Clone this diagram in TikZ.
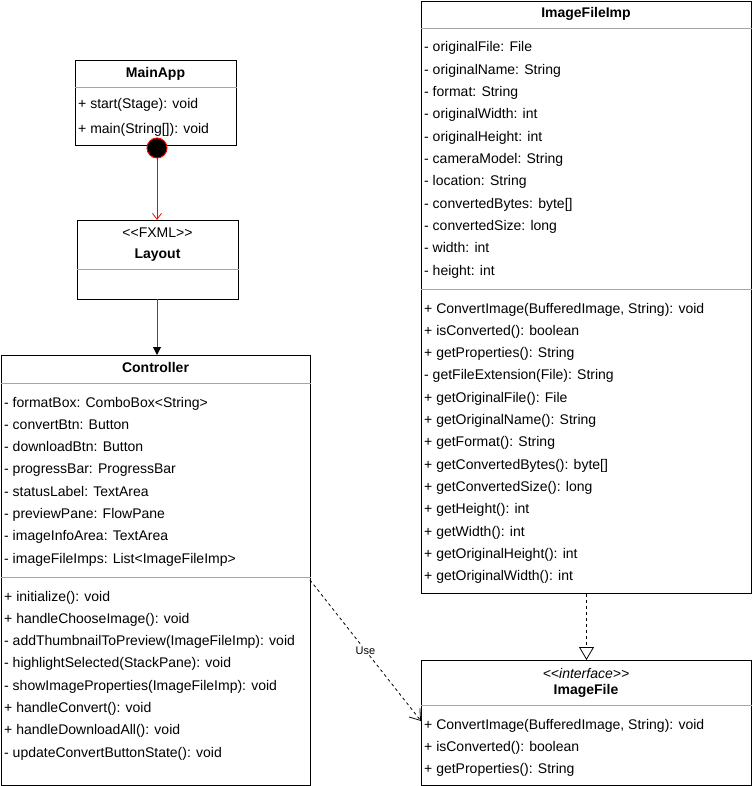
\documentclass[tikz,border=0pt]{standalone}
\usepackage{fontspec}
\setmainfont{Liberation Sans}
\usetikzlibrary{arrows.meta}
% guillemet-free angle brackets: a kern keeps << and >> from merging
\newcommand{\lsq}{<\kern0pt<}
\newcommand{\rsq}{>\kern0pt>}
\begin{document}
\begin{tikzpicture}[x=1pt,y=-1pt,
  classbox/.style={draw=black, line width=1pt, fill=white, anchor=north west, inner sep=0pt},
  sepline/.style={draw=black!35, line width=1pt},
  row/.style={anchor=base west, inner sep=0pt, font=\fontsize{14}{16}\selectfont},
  ctitle/.style={anchor=base, inner sep=0pt, font=\fontsize{14}{16}\selectfont\bfseries},
  stereo/.style={anchor=base, inner sep=0pt, font=\fontsize{14}{16}\selectfont},
  dashline/.style={line width=0.8pt, dash pattern=on 3pt off 3pt},
  dot/.style={circle, draw=red, fill=black, line width=1pt, minimum size=20pt, inner sep=0pt}]
\useasboundingbox (0,0) rectangle (752,786);

% ---------- MainApp ----------
\node[classbox, minimum width=161pt, minimum height=85pt] (mainapp) at (75,60) {};
\node[ctitle] (mainappT) at (155.5,77.5) {MainApp};
\draw[sepline] (mainapp.west |- 0,88) -- (mainapp.east |- 0,88);
\node[row] (mA1) at (78,109) {+ start(Stage): void};
\node[row] (mA2) at (78,134) {+ main(String[]): void};

% ---------- Layout ----------
\node[classbox, minimum width=161pt, minimum height=79pt] (layout) at (77,220) {};
\node[stereo] (layoutS) at (157.5,237) {\lsq FXML\rsq};
\node[ctitle] (layoutT) at (157.5,258) {Layout};
\draw[sepline] (layout.west |- 0,269) -- (layout.east |- 0,269);

% ---------- Controller ----------
\node[classbox, minimum width=309pt, minimum height=430pt] (ctrl) at (1,355) {};
\node[ctitle] (ctrlT) at (155.5,372.5) {Controller};
\draw[sepline] (ctrl.west |- 0,383) -- (ctrl.east |- 0,383);
\foreach \t [count=\i from 0] in {
  {- formatBox: ComboBox<String>},
  {- convertBtn: Button},
  {- downloadBtn: Button},
  {- progressBar: ProgressBar},
  {- statusLabel: TextArea},
  {- previewPane: FlowPane},
  {- imageInfoArea: TextArea},
  {- imageFileImps: List<ImageFileImp>}}
  \node[row] at (4,407+22.3*\i) {\t};
\draw[sepline] (ctrl.west |- 0,577) -- (ctrl.east |- 0,577);
\foreach \t [count=\i from 0] in {
  {+ initialize(): void},
  {+ handleChooseImage(): void},
  {- addThumbnailToPreview(ImageFileImp): void},
  {- highlightSelected(StackPane): void},
  {- showImageProperties(ImageFileImp): void},
  {+ handleConvert(): void},
  {+ handleDownloadAll(): void},
  {- updateConvertButtonState(): void}}
  \node[row] at (4,601+22.3*\i) {\t};

% ---------- ImageFileImp ----------
\node[classbox, minimum width=330pt, minimum height=592pt] (imp) at (421,1) {};
\node[ctitle] (impT) at (586,18) {ImageFileImp};
\draw[sepline] (imp.west |- 0,29) -- (imp.east |- 0,29);
\foreach \t [count=\i from 0] in {
  {- originalFile: File},
  {- originalName: String},
  {- format: String},
  {- originalWidth: int},
  {- originalHeight: int},
  {- cameraModel: String},
  {- location: String},
  {- convertedBytes: byte[]},
  {- convertedSize: long},
  {- width: int},
  {- height: int}}
  \node[row] at (424,52+22.3*\i) {\t};
\draw[sepline] (imp.west |- 0,289) -- (imp.east |- 0,289);
\foreach \t [count=\i from 0] in {
  {+ ConvertImage(BufferedImage, String): void},
  {+ isConverted(): boolean},
  {+ getProperties(): String},
  {- getFileExtension(File): String},
  {+ getOriginalFile(): File},
  {+ getOriginalName(): String},
  {+ getFormat(): String},
  {+ getConvertedBytes(): byte[]},
  {+ getConvertedSize(): long},
  {+ getHeight(): int},
  {+ getWidth(): int},
  {+ getOriginalHeight(): int},
  {+ getOriginalWidth(): int}}
  \node[row] at (424,313+22.33*\i) {\t};

% ---------- ImageFile (interface) ----------
\node[classbox, minimum width=330pt, minimum height=125pt] (ifile) at (421,660) {};
\node[stereo, font=\fontsize{14}{16}\selectfont\itshape] (ifileS) at (586,678) {\lsq interface\rsq};
\node[ctitle] (ifileT) at (586,694) {ImageFile};
\draw[sepline] (ifile.west |- 0,705) -- (ifile.east |- 0,705);
\foreach \t [count=\i from 0] in {
  {+ ConvertImage(BufferedImage, String): void},
  {+ isConverted(): boolean},
  {+ getProperties(): String}}
  \node[row] at (424,729+22.3*\i) {\t};

% ---------- Connectors ----------
\node[dot] (start) at (157,148) {};
\draw[red, line width=0.8pt, -{Straight Barb[length=6pt,width=9pt]}]
  (start.south) -- (start.south |- layout.north);

\coordinate (layoutOut) at (157,299);
\draw[black!70, line width=1pt, -{Triangle[length=8pt,width=8pt,color=black]}]
  (layoutOut) -- (layoutOut |- ctrl.north);

\draw[dashline, -{Triangle[open, length=13pt, width=15pt, line width=0.8pt]}]
  (imp.south) -- (ifile.north);

\coordinate (useA) at (310,580);
\coordinate (useB) at (421,721);
\draw[dashline, -{Straight Barb[length=10pt,width=14pt, line width=0.8pt]}]
  (useA) -- (useB)
  node[midway, fill=white, inner sep=1pt, font=\fontsize{11}{13}\selectfont] (uselbl) {Use};
\end{tikzpicture}
\end{document}
